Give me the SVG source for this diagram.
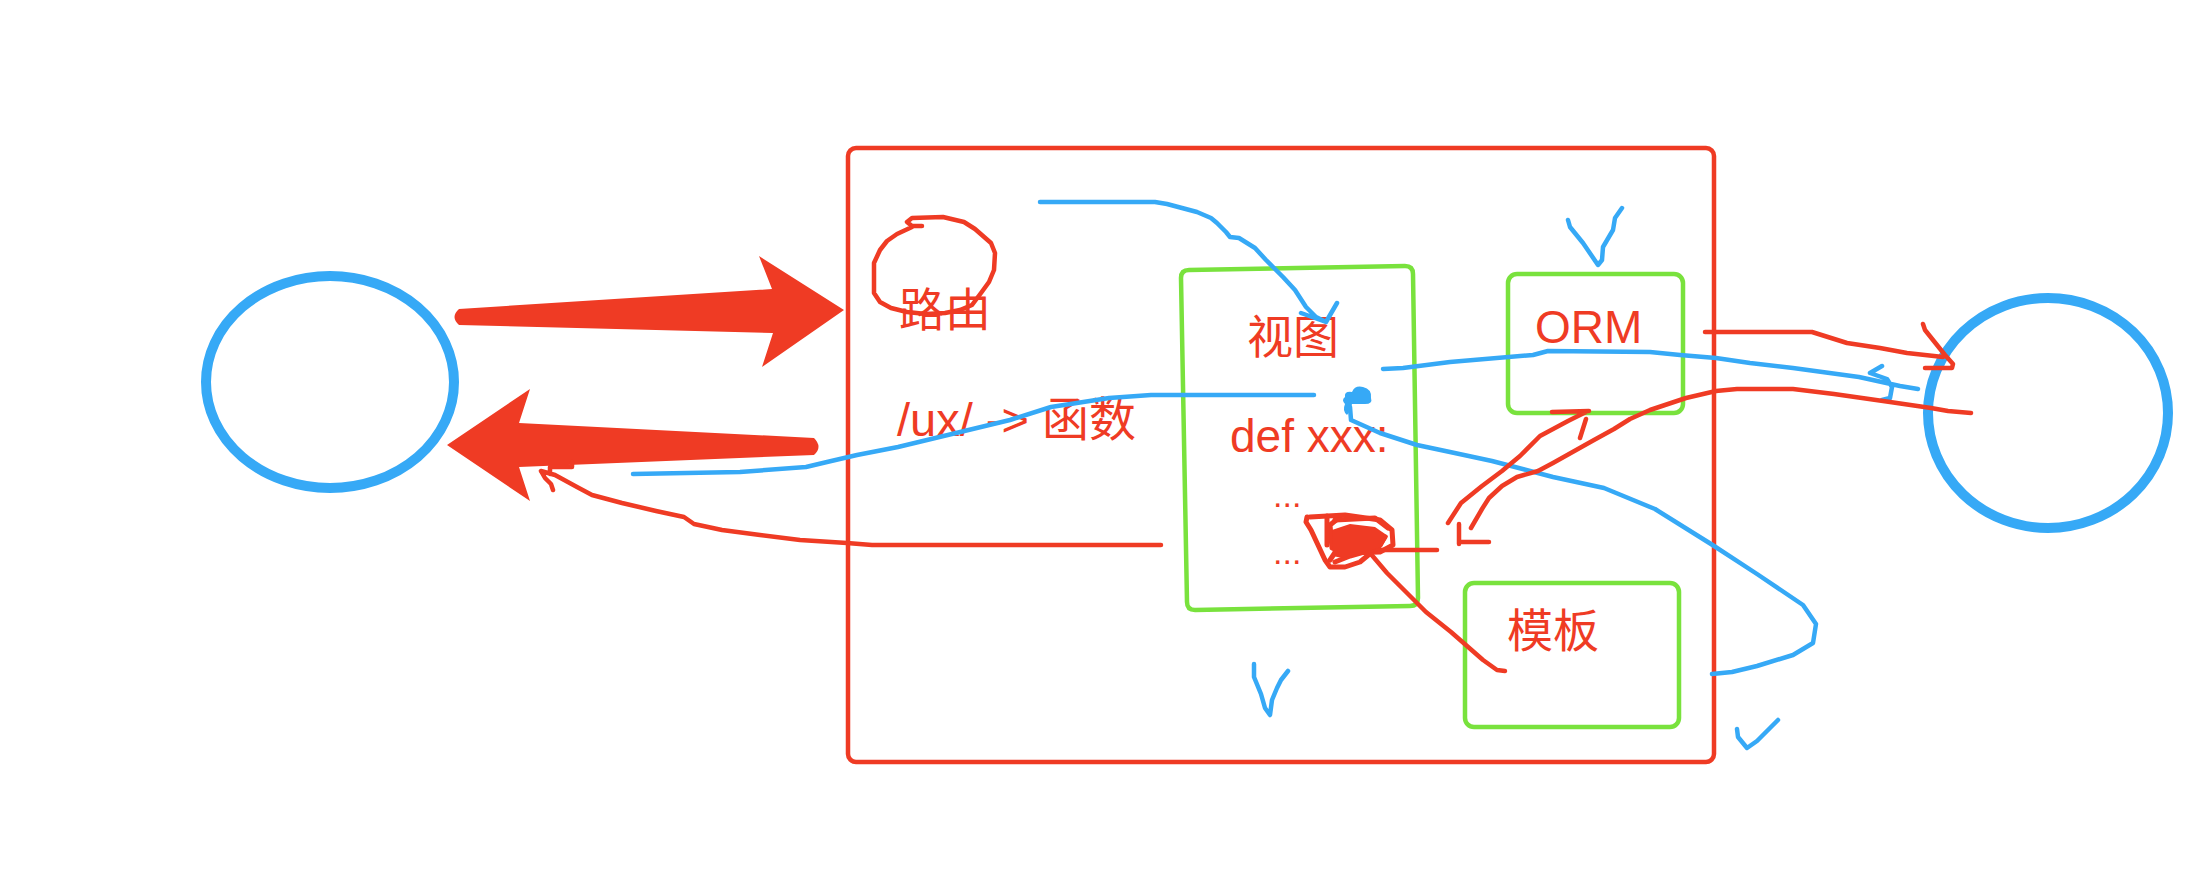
<svg xmlns="http://www.w3.org/2000/svg" width="2212" height="888" viewBox="0 0 2212 888">
<style>
.r{fill:none;stroke:#ef3b24;stroke-width:4.5;stroke-linecap:round;stroke-linejoin:round}
.b{fill:none;stroke:#36a9f6;stroke-width:4.5;stroke-linecap:round;stroke-linejoin:round}
.g{fill:none;stroke:#79e23d;stroke-width:4.5;stroke-linejoin:round}
.c{fill:none;stroke:#36a9f6;stroke-width:10}
.t{fill:#ef3b24;font-family:"Liberation Sans","Noto Sans CJK SC",sans-serif;font-size:46px}
</style>
<rect width="2212" height="888" fill="#ffffff"/>
<g id="client"><ellipse class="c" cx="330" cy="382" rx="124" ry="106"/></g>
<g id="database"><ellipse class="c" cx="2048" cy="413" rx="120" ry="115"/></g>
<g id="server"><rect class="r" x="848" y="148" width="866" height="614" rx="8"/></g>
<g id="router">
<path class="r" d="M922,226 L912,226 L907,222 L912,218 L943,217 L964,222 L975,229 L991,243 L995,253 L994,270 L989,282 L981,293 L972,305 L960,310 L945,313 L926,314 L907,312 L891,308 L880,302 L874,293 L874,263 L880,250 L887,241 L897,234 L912,227"/>
<text class="t" x="899" y="326">路由</text>
<text class="t" x="897" y="436" style="font-size:47px">/ux/ -&gt; 函数</text>
</g>
<g id="view">
<path class="g" d="M1189,270 L1405,266 Q1413,266 1413,274 L1418,598 Q1418,606 1410,606 L1195,610 Q1187,610 1187,602 L1181,278 Q1181,270 1189,270 Z"/>
<text class="t" x="1247" y="353">视图</text>
<text class="t" x="1230" y="452">def xxx:</text>
<text class="t" x="1273" y="507" style="font-size:34px">...</text>
<text class="t" x="1273" y="564" style="font-size:34px">...</text>
</g>
<g id="orm">
<rect class="g" x="1508" y="274" width="175" height="139" rx="9"/>
<text class="t" x="1535" y="343">ORM</text>
</g>
<g id="template">
<rect class="g" x="1465" y="583" width="214" height="144" rx="9"/>
<text class="t" x="1507" y="647">模板</text>
</g>
<g id="connectors">
<path fill="#ef3b24" d="M459,309 L772,289 L759,256 L844,310 L762,367 L773,333 L459,325 Q450,317 459,309 Z"/>
<path fill="#ef3b24" d="M447,445 L530,389 L519,423 L814,438 Q823,447 814,455 L519,467 L530,501 Z"/>
<path class="b" d="M1040,202 L1155,202 L1167,204 L1197,212 L1211,218 L1217,223 L1226,232 L1230,237 L1239,238 L1255,248 L1266,260 L1274,268 L1283,277 L1295,290 L1306,307 L1316,317 L1326,322 M1301,313 L1326,322 L1337,303"/>
<path class="b" d="M1314,395 L1151,395 L1109,398 L1051,407 L1010,420 L898,447 L857,455 L827,462 L806,467 L740,472 L633,474"/>
<path class="b" d="M1383,369 L1403,368 L1450,362 L1533,355 L1548,351 L1650,352 L1680,355 L1716,358 L1750,363 L1793,368 L1859,377 L1900,386 L1918,389 M1882,366 L1870,373 L1887,379 L1892,387 L1890,398 L1882,400"/>
<path class="b" d="M1712,674 L1732,672 L1757,666 L1793,655 L1813,643 L1816,624 L1803,605 L1757,574 L1711,544 L1655,509 L1604,488 L1553,477 L1492,461 L1450,452 L1417,445 L1380,433 L1351,420 L1350,407"/>
<path fill="#36a9f6" d="M1345,397 Q1344,391 1352,392 Q1355,385 1363,387 Q1372,389 1371,398 Q1373,404 1365,404 L1352,404 Q1350,412 1347,415 Q1342,411 1345,404 Q1341,400 1345,397 Z"/>
<path class="r" d="M1705,332 L1812,332 L1847,343 L1880,348 L1907,353 L1943,357 M1923,324 L1925,330 L1945,355 L1953,364 L1952,368 L1925,368"/>
<path class="r" d="M1971,413 L1948,411 L1931,408 L1890,402 L1834,394 L1793,389 L1737,389 L1716,391 L1686,398 L1650,410 L1630,419 L1614,429 L1594,440 L1553,463 L1538,471 L1517,477 L1502,486 L1489,498 L1482,509 L1471,528 M1459,524 L1459,544 M1459,542 L1489,542"/>
<path class="r" d="M1448,523 L1461,503 L1482,486 L1502,471 L1520,456 L1540,436 L1568,421 L1586,412 M1552,412 L1589,411 M1586,419 L1580,438"/>
<path class="r" d="M1161,545 L872,545 L847,543 L800,540 L760,535 L722,530 L694,524 L684,517 L656,511 L622,503 L592,495 L577,487 L555,475 L541,471 M541,471 L545,478 L551,484 L553,490 M550,474 L550,467 L572,467 L572,462"/>
<path class="r" d="M1373,550 L1437,550"/>
<path class="r" d="M1370,553 L1387,573 L1400,586 L1417,603 L1426,612 L1451,632 L1483,660 L1497,670 L1505,671"/>
<path class="r" style="stroke-width:5" d="M1310,517 L1345,515 L1380,520 L1392,530 L1393,545 L1380,552 L1345,553 L1332,548 L1330,525 L1340,517"/>
<path class="r" style="stroke-width:5" d="M1307,517 L1306,522 L1311,530 L1318,545 L1325,560 L1330,567 L1345,567 L1360,562 L1372,552"/>
<path class="r" style="stroke-width:5" d="M1327,516 L1327,545 M1330,560 L1340,545 L1365,533 L1385,537 L1378,548 L1350,556 L1335,562 M1335,520 L1375,518 L1388,528"/>
<path fill="#ef3b24" d="M1332,530 L1350,524 L1375,527 L1388,536 L1382,547 L1362,553 L1342,558 L1333,556 Z"/>
</g>
<g id="checks">
<path class="b" d="M1568,220 L1570,227 L1583,243 L1598,265 L1602,260 L1603,247 L1613,230 L1615,218 L1622,208"/>
<path class="b" d="M1254,664 L1254,677 L1261,694 L1265,708 L1270,715 L1272,700 L1277,688 L1281,680 L1288,671"/>
<path class="b" d="M1737,729 L1738,737 L1747,748 L1757,741 L1767,731 L1778,720"/>
</g>
</svg>
